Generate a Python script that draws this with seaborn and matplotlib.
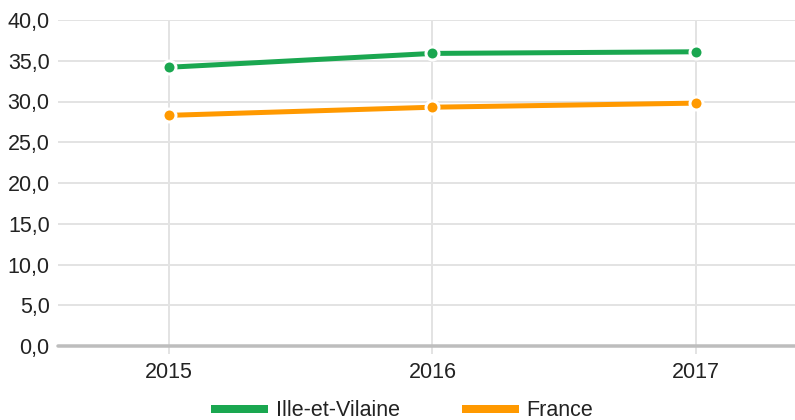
import matplotlib
matplotlib.use("Agg")
import matplotlib.pyplot as plt
import seaborn as sns
import pandas as pd
from matplotlib.lines import Line2D

years = ["2015", "2016", "2017"]
ille_et_vilaine = [34.2, 35.9, 36.1]
france = [28.3, 29.3, 29.8]
series_names = ["Ille-et-Vilaine", "France"]
colors = ["#1aa750", "#ff9900"]
y_ticks = [0, 5, 10, 15, 20, 25, 30, 35, 40]

df = pd.DataFrame({
    "x": list(range(len(years))) * 2,
    "value": ille_et_vilaine + france,
    "serie": [series_names[0]] * len(years) + [series_names[1]] * len(years),
})

sns.set_theme(style="white")
plt.rcParams["font.family"] = ["Liberation Sans", "DejaVu Sans"]

dpi = 100
fig = plt.figure(figsize=(7.95, 4.2), dpi=dpi)
ax = fig.add_axes([58 / 795, 1 - 346 / 420, 1 - 58 / 795, (346 - 20) / 420])

px = 72 / dpi
sns.lineplot(data=df, x="x", y="value", hue="serie", palette=colors,
             hue_order=series_names, marker="o", markersize=13 * px,
             markeredgecolor="white", markeredgewidth=3 * px,
             linewidth=5 * px, legend=False, ax=ax, zorder=3)
for ln in ax.lines:
    ln.set_solid_capstyle("butt")
    ln.set_clip_on(False)

ax.set_xlim(-0.42, 2.375)
ax.set_ylim(0, 40)
ax.set_xticks(range(len(years)))
ax.set_xticklabels(years)
ax.set_yticks(y_ticks)
ax.set_yticklabels([f"{v:.1f}".replace(".", ",") for v in y_ticks])
ax.set_xlabel("")
ax.set_ylabel("")

grid_c = "#e3e3e3"
for v in y_ticks[1:]:
    ax.axhline(v, color=grid_c, linewidth=2 * px, zorder=0)
ax.xaxis.grid(True, color=grid_c, linewidth=2 * px, zorder=0)
ax.set_axisbelow(True)
ax.axhline(0, color="#bdbdbd", linewidth=3.5 * px, zorder=1, clip_on=False)

for s in ax.spines.values():
    s.set_visible(False)

ax.tick_params(axis="x", length=8 * px, width=2 * px, color=grid_c,
               direction="out", pad=6, labelsize=15.5, labelcolor="#222222")
ax.tick_params(axis="y", length=0, pad=6, labelsize=15.5, labelcolor="#222222")
ax.tick_params(axis="x", bottom=True)

handles = [Line2D([0], [0], color=c, linewidth=8 * px, solid_capstyle="butt")
           for c in colors]
fig.legend(handles, series_names, loc="center", bbox_to_anchor=(0.506, 1 - 411 / 420),
           bbox_transform=fig.transFigure, ncol=2, frameon=False,
           fontsize=15.5, handlelength=2.65, handletextpad=0.35,
           columnspacing=2.9, labelcolor="#222222")

fig.savefig("out.png", dpi=dpi)
